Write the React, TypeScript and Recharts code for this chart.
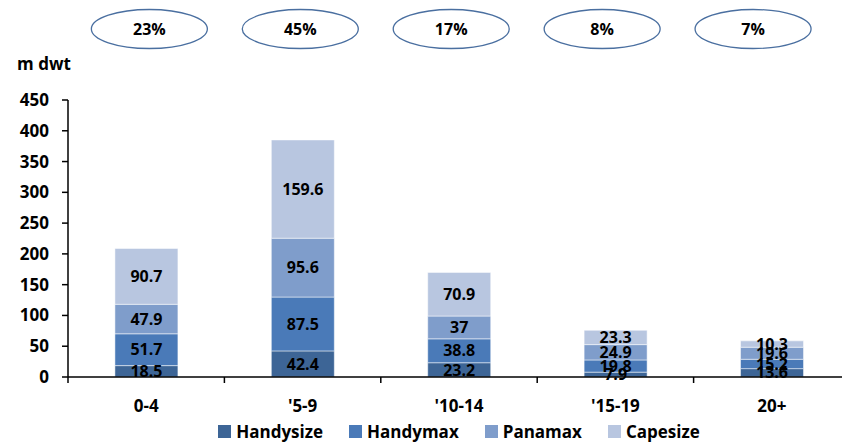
import React from 'react';
import { ComposedChart, Bar, XAxis, YAxis, Legend, LabelList } from 'recharts';

const categories = ['0-4', "'5-9", "'10-14", "'15-19", '20+'];
const handysize = [18.5, 42.4, 23.2, 7.9, 13.6];
const handymax = [51.7, 87.5, 38.8, 19.8, 15.2];
const panamax = [47.9, 95.6, 37, 24.9, 19.6];
const capesize = [90.7, 159.6, 70.9, 23.3, 10.3];
const shares = ['23%', '45%', '17%', '8%', '7%'];
const yTicks = [0, 50, 100, 150, 200, 250, 300, 350, 400, 450];

const series = [
  { key: 'Handysize', values: handysize, color: '#3D6596' },
  { key: 'Handymax', values: handymax, color: '#4A7AB8' },
  { key: 'Panamax', values: panamax, color: '#7F9DCB' },
  { key: 'Capesize', values: capesize, color: '#B8C6E0' },
];

const data = categories.map((c, i) => {
  const row: any = { category: c, share: shares[i] };
  series.forEach((s) => (row[s.key] = s.values[i]));
  return row;
});

const FONT = '"Open Sans", Lato, sans-serif';
const W = 842;
const H = 434;
const PLOT_LEFT = 60;

const EllipseLabel = (props: any) => {
  const { x, width, value } = props;
  const barCenter = x + width / 2;
  const mid = PLOT_LEFT + (W - PLOT_LEFT) / 2;
  const cx = mid - 8 + (barCenter - mid) * 0.965;
  return (
    <g>
      <ellipse cx={cx} cy={21} rx={58} ry={19.5} fill="#fff" stroke="#4A6FA0" strokeWidth={1.3} />
      <text x={cx} y={21} textAnchor="middle" dominantBaseline="central" fontFamily={FONT} fontWeight={700} fontSize={16} fill="#000">
        {value}
      </text>
    </g>
  );
};

const XTick = (props: any) => {
  const { x, y, payload, index, visibleTicksCount } = props;
  const half = payload && payload.offset ? payload.offset : 0;
  const axisY = y;
  return (
    <g>
      <line x1={x - half} x2={x - half} y1={axisY} y2={axisY + 6} stroke="#000" strokeWidth={1.5} />
      {index === visibleTicksCount - 1 ? (
        <line x1={x + half} x2={x + half} y1={axisY} y2={axisY + 6} stroke="#000" strokeWidth={1.5} />
      ) : null}
      <text x={x} y={axisY + 35} textAnchor="middle" fill="#000" fontSize={17} fontWeight={700} fontFamily={FONT}>
        {payload.value}
      </text>
    </g>
  );
};

const renderLegend = () => (
  <div style={{ display: 'flex', justifyContent: 'center', alignItems: 'center', fontFamily: FONT, fontWeight: 700, fontSize: 17, color: '#000' }}>
    {series.map((s) => (
      <div key={s.key} style={{ display: 'flex', alignItems: 'center', margin: '0 13px' }}>
        <div style={{ width: 13, height: 13, background: s.color, marginRight: 5 }} />
        <span>{s.key}</span>
      </div>
    ))}
  </div>
);

export default function App() {
  return (
    <div style={{ width: W, height: H, fontFamily: FONT }}>
      <ComposedChart width={W} height={H} data={data} margin={{ top: 92, right: 0, left: 0, bottom: 35 }} barCategoryGap="30%">
        <XAxis
          dataKey="category"
          axisLine={{ stroke: '#000', strokeWidth: 1.5 }}
          tickLine={false}
          tickSize={0}
          tickMargin={0}
          height={30}
          interval={0}
          tick={<XTick />}
        />
        <YAxis
          domain={[0, 450]}
          ticks={yTicks}
          width={60}
          tickSize={6}
          tickMargin={13}
          axisLine={{ stroke: '#000', strokeWidth: 1.5 }}
          tickLine={{ stroke: '#000', strokeWidth: 1.5 }}
          tick={{ fill: '#000', fontSize: 17, fontWeight: 700, fontFamily: FONT }}
          label={{ value: 'm dwt', position: 'top', offset: 30, dx: 6, fill: '#000', fontSize: 17, fontWeight: 700, fontFamily: FONT }}
        />
        <Legend verticalAlign="middle" content={renderLegend} wrapperStyle={{ top: 412, left: PLOT_LEFT, width: W - PLOT_LEFT }} />
        {series.map((s, idx) => (
          <Bar key={s.key} dataKey={s.key} stackId="a" fill={s.color} stroke="#fff" strokeWidth={0.5} isAnimationActive={false}>
            <LabelList dataKey={s.key} position="center" fill="#000" fontSize={16} fontWeight={700} fontFamily={FONT} />
            {idx === series.length - 1 ? <LabelList dataKey="share" content={EllipseLabel} /> : null}
          </Bar>
        ))}
      </ComposedChart>
    </div>
  );
}
